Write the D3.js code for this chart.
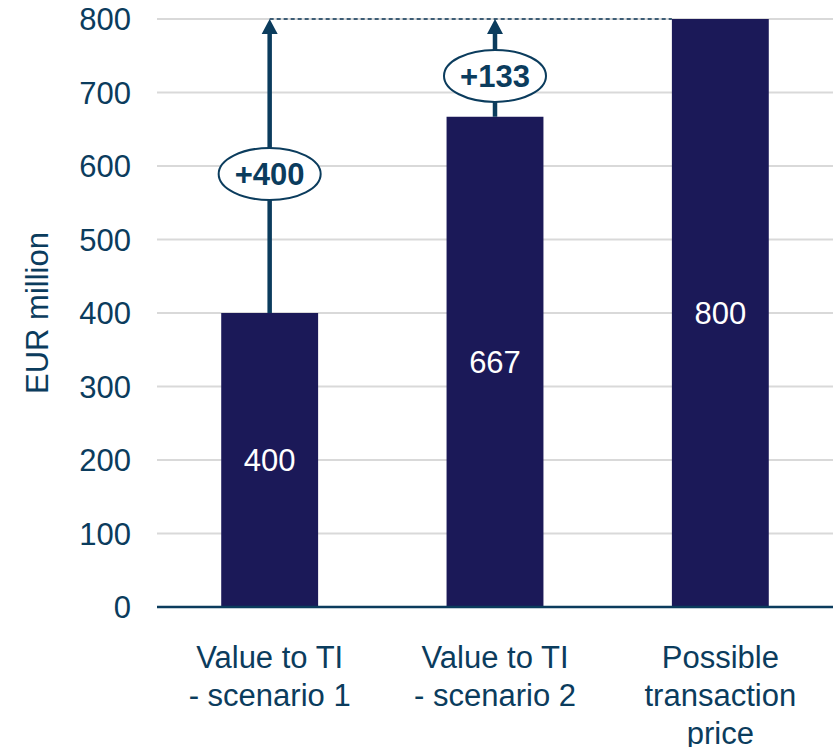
<!DOCTYPE html>
<html>
<head>
<meta charset="utf-8">
<script src="https://cdn.jsdelivr.net/npm/d3@7"></script>
<style>
  html, body { margin: 0; padding: 0; background: #fff; }
  svg { display: block; font-family: "Liberation Sans", Arial, sans-serif; }
</style>
</head>
<body>
<div id="chart"></div>
<script>
const categories = ["Value to TI - scenario 1", "Value to TI - scenario 2", "Possible transaction price"];
const categoryLines = [["Value to TI", "- scenario 1"], ["Value to TI", "- scenario 2"], ["Possible", "transaction", "price"]];
const values = [400, 667, 800];
const gapLabels = ["+400", "+133"];
const target = 800;
const yTicks = [0, 100, 200, 300, 400, 500, 600, 700, 800];

const width = 833;
const height = 747;
const margin = { top: 19, right: 0, bottom: 140, left: 157 };

const textColor = "#0b3c5d";
const barColor = "#1b1958";

const svg = d3.select("#chart")
  .append("svg")
  .attr("width", width)
  .attr("height", height);

const x = d3.scaleBand()
  .domain(categories)
  .range([margin.left, width - margin.right])
  .paddingInner(0.57)
  .paddingOuter(0.285);

const y = d3.scaleLinear()
  .domain([0, 800])
  .range([height - margin.bottom, margin.top]);

// gridlines
svg.append("g")
  .selectAll("line")
  .data(yTicks.filter((d) => d > 0))
  .join("line")
  .attr("x1", margin.left)
  .attr("x2", width)
  .attr("y1", (d) => y(d))
  .attr("y2", (d) => y(d))
  .attr("stroke", "#d9d9d9")
  .attr("stroke-width", 2);

// y tick labels
svg.append("g")
  .selectAll("text")
  .data(yTicks)
  .join("text")
  .attr("x", 131)
  .attr("y", (d) => y(d))
  .attr("dy", "0.36em")
  .attr("text-anchor", "end")
  .attr("font-size", 31)
  .attr("fill", textColor)
  .text((d) => d);

// y axis title
svg.append("text")
  .attr("transform", `translate(48,${y(400)}) rotate(-90)`)
  .attr("text-anchor", "middle")
  .attr("font-size", 31)
  .attr("fill", textColor)
  .text("EUR million");

// dashed reference line at target
svg.append("line")
  .attr("x1", x(categories[0]) + x.bandwidth() / 2)
  .attr("x2", x(categories[2]))
  .attr("y1", y(target))
  .attr("y2", y(target))
  .attr("stroke", "#3d5d76")
  .attr("stroke-width", 2)
  .attr("stroke-dasharray", "4,3");

// bars
svg.append("g")
  .selectAll("rect")
  .data(values)
  .join("rect")
  .attr("x", (d, i) => x(categories[i]))
  .attr("y", (d) => y(d))
  .attr("width", x.bandwidth())
  .attr("height", (d) => y(0) - y(d))
  .attr("fill", barColor);

// bar value labels
svg.append("g")
  .selectAll("text")
  .data(values)
  .join("text")
  .attr("x", (d, i) => x(categories[i]) + x.bandwidth() / 2)
  .attr("y", (d) => (y(d) + y(0)) / 2)
  .attr("dy", "0.36em")
  .attr("text-anchor", "middle")
  .attr("font-size", 31)
  .attr("fill", "#fff")
  .text((d) => Math.round(d));

// x axis line
svg.append("line")
  .attr("x1", margin.left)
  .attr("x2", width)
  .attr("y1", y(0))
  .attr("y2", y(0))
  .attr("stroke", textColor)
  .attr("stroke-width", 2.5);

// category labels
const catLabels = svg.append("g")
  .selectAll("text")
  .data(categories)
  .join("text")
  .attr("x", (d) => x(d) + x.bandwidth() / 2)
  .attr("y", 668)
  .attr("text-anchor", "middle")
  .attr("font-size", 31)
  .attr("fill", textColor);

catLabels.selectAll("tspan")
  .data((d, i) => categoryLines[i])
  .join("tspan")
  .attr("x", function () { return d3.select(this.parentNode).attr("x"); })
  .attr("dy", (d, i) => (i === 0 ? 0 : 38))
  .text((d) => d);

// gap arrows with oval labels
const arrows = svg.append("g")
  .selectAll("g")
  .data(gapLabels)
  .join("g")
  .attr("transform", (d, i) => `translate(${x(categories[i]) + x.bandwidth() / 2},0)`);

arrows.append("line")
  .attr("x1", 0)
  .attr("x2", 0)
  .attr("y1", (d, i) => y(values[i]))
  .attr("y2", y(target) + 12)
  .attr("stroke", textColor)
  .attr("stroke-width", 4.5);

arrows.append("path")
  .attr("d", `M0,${y(target)} L-8,${y(target) + 15} L8,${y(target) + 15} Z`)
  .attr("fill", textColor);

arrows.append("ellipse")
  .attr("cx", 0)
  .attr("cy", (d, i) => y((values[i] + target) / 2) + 8)
  .attr("rx", 51)
  .attr("ry", 26)
  .attr("fill", "#fff")
  .attr("stroke", textColor)
  .attr("stroke-width", 2);

arrows.append("text")
  .attr("x", 0)
  .attr("y", (d, i) => y((values[i] + target) / 2) + 8)
  .attr("dy", "0.36em")
  .attr("text-anchor", "middle")
  .attr("font-size", 31)
  .attr("font-weight", "bold")
  .attr("fill", textColor)
  .text((d) => d);
</script>
</body>
</html>
